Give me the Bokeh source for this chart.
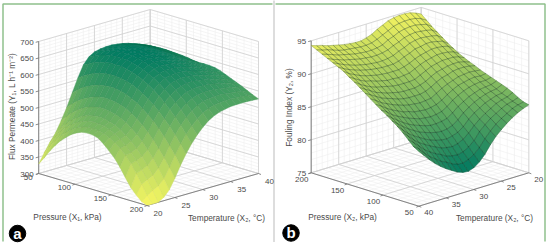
import numpy as np
from bokeh.plotting import figure
from bokeh.models import Range1d
from bokeh.embed import file_html
from bokeh.resources import INLINE

# ---------- chart a: flux permeate; rows T=20..40, columns P=50..200
A_PRESSURE = [50 + 7.5 * k for k in range(21)]
A_TEMP = list(range(20, 41))
A_FLUX = [
 [329,352,377,399,418,433,447,457,464,466,465,460,447,431,414,392,365,340,322,307,300],
 [358,383,404,423,439,452,462,470,474,475,474,470,462,452,439,423,402,378,350,320,300],
 [385,407,427,444,458,469,477,483,485,485,483,477,468,457,443,426,407,384,359,331,300],
 [408,428,446,461,473,483,490,494,496,495,491,485,476,464,450,434,414,392,367,340,310],
 [440,458,474,487,498,506,511,515,515,513,509,502,493,481,467,450,430,409,384,357,328],
 [475,491,505,516,525,532,537,539,539,536,532,525,515,504,490,474,455,434,411,386,358],
 [515,529,541,550,558,563,566,568,567,564,559,551,542,531,517,502,484,464,442,418,392],
 [555,566,576,584,589,593,595,595,593,589,584,576,566,555,542,527,509,491,470,447,422],
 [590,599,607,613,617,620,620,620,617,612,606,598,588,577,564,549,532,514,494,472,448],
 [610,618,625,630,633,635,635,634,631,626,620,612,603,592,579,565,549,532,513,492,470],
 [620,628,634,639,642,643,643,642,639,635,629,622,613,603,591,577,562,546,528,509,488],
 [624,631,636,641,643,645,645,644,641,637,632,625,617,607,596,584,571,556,540,522,503],
 [626,632,637,641,643,644,644,643,640,637,632,625,618,609,599,588,575,562,547,531,513],
 [626,631,636,639,641,642,641,640,637,634,629,623,616,608,599,589,577,565,551,536,520],
 [624,629,632,635,636,637,636,635,632,629,624,619,612,605,596,587,576,565,552,539,524],
 [621,625,628,630,631,631,631,629,627,623,619,614,608,601,593,584,575,564,553,540,527],
 [617,620,623,624,625,625,624,622,620,617,613,608,602,596,588,580,571,562,551,540,528],
 [611,614,616,617,617,617,616,615,612,609,606,601,596,590,583,576,568,559,549,539,528],
 [605,607,609,610,610,610,609,607,605,602,599,594,590,584,578,571,564,556,547,538,528],
 [598,600,601,602,602,601,600,599,597,594,591,587,582,577,572,566,559,552,544,536,527],
 [590,589,587,586,585,583,582,582,582,583,584,584,582,577,570,563,556,549,541,533,526],
]
A_Z_TICKS = [300, 350, 400, 450, 500, 550, 600, 650, 700]
A_P_TICKS = [50, 100, 150, 200]
A_T_TICKS = [20, 25, 30, 35, 40]

# ---------- chart b: fouling index; rows T=40..20, columns P=200..50
B_PRESSURE = [200 - 7.5 * k for k in range(21)]
B_TEMP = list(range(40, 19, -1))
B_FOULING = [
 [94.3,93.9,93.5,93.1,92.7,92.3,91.9,91.3,90.8,90.2,89.6,89.0,88.4,87.8,87.3,86.7,86.1,85.4,84.6,83.8,83.3],
 [94.0,93.6,93.2,92.7,92.3,91.8,91.3,90.8,90.2,89.7,89.1,88.5,87.9,87.3,86.6,86.0,85.3,84.6,83.9,83.2,82.4],
 [93.8,93.4,92.9,92.4,91.9,91.4,90.9,90.3,89.7,89.2,88.6,87.9,87.3,86.6,86.0,85.3,84.5,83.8,83.1,82.3,81.5],
 [93.5,93.1,92.6,92.1,91.6,91.1,90.5,89.9,89.3,88.7,88.1,87.5,86.8,86.1,85.4,84.7,83.9,83.1,82.3,81.5,80.7],
 [93.3,92.8,92.4,91.9,91.3,90.8,90.2,89.7,89.0,88.4,87.8,87.1,86.4,85.7,84.9,84.2,83.4,82.6,81.7,80.9,80.0],
 [93.1,92.6,92.2,91.7,91.1,90.6,90.0,89.4,88.8,88.1,87.5,86.8,86.0,85.3,84.5,83.7,82.9,82.1,81.2,80.3,79.4],
 [92.9,92.5,92.0,91.5,90.9,90.4,89.8,89.2,88.6,87.9,87.2,86.5,85.8,85.0,84.2,83.4,82.5,81.7,80.8,79.9,78.9],
 [92.8,92.4,91.9,91.4,90.8,90.3,89.7,89.0,88.4,87.7,87.0,86.3,85.5,84.7,83.9,83.1,82.2,81.3,80.3,79.4,78.4],
 [92.7,92.3,91.8,91.3,90.7,90.2,89.6,89.0,88.3,87.6,86.9,86.2,85.4,84.6,83.7,82.9,82.0,81.1,80.1,79.1,78.1],
 [92.7,92.3,91.8,91.3,90.7,90.2,89.6,88.9,88.3,87.6,86.9,86.1,85.3,84.5,83.7,82.8,81.9,81.0,80.0,79.0,78.0],
 [92.9,92.4,91.9,91.4,90.8,90.2,89.6,89.0,88.3,87.6,86.9,86.2,85.4,84.6,83.8,82.9,82.1,81.2,80.2,79.3,78.3],
 [93.2,92.7,92.1,91.6,91.0,90.4,89.8,89.1,88.4,87.8,87.1,86.3,85.6,84.8,84.0,83.2,82.4,81.6,80.7,79.8,78.9],
 [93.7,93.1,92.6,92.0,91.4,90.8,90.1,89.5,88.8,88.1,87.5,86.8,86.0,85.3,84.6,83.8,83.0,82.3,81.4,80.6,79.8],
 [94.1,93.5,92.9,92.3,91.7,91.1,90.5,89.9,89.2,88.6,88.0,87.3,86.6,86.0,85.3,84.6,83.9,83.2,82.5,81.7,81.0],
 [94.5,93.9,93.3,92.7,92.1,91.5,90.8,90.2,89.6,89.0,88.4,87.7,87.1,86.5,85.8,85.2,84.6,83.9,83.3,82.6,82.0],
 [94.7,94.1,93.5,92.9,92.3,91.6,91.0,90.4,89.8,89.2,88.6,88.0,87.5,86.9,86.3,85.7,85.1,84.5,84.0,83.4,82.8],
 [94.8,94.2,93.6,93.0,92.4,91.8,91.2,90.6,90.0,89.4,88.9,88.3,87.7,87.2,86.6,86.1,85.6,85.0,84.5,84.0,83.5],
 [94.8,94.2,93.6,92.9,92.3,91.8,91.2,90.6,90.0,89.5,89.0,88.4,87.9,87.4,86.9,86.4,85.9,85.5,85.0,84.5,84.1],
 [94.7,94.1,93.4,92.8,92.2,91.6,91.1,90.5,90.0,89.5,89.0,88.5,88.0,87.5,87.0,86.6,86.2,85.8,85.4,85.0,84.6],
 [94.4,93.8,93.2,92.6,92.0,91.4,90.9,90.3,89.8,89.3,88.9,88.4,87.9,87.5,87.1,86.7,86.3,86.0,85.6,85.3,85.0],
 [94.0,93.3,92.6,92.0,91.4,90.8,90.3,89.8,89.4,89.0,88.7,88.3,88.0,87.7,87.4,87.1,86.8,86.4,85.9,85.5,85.3],
]
B_Z_TICKS = [75, 80, 85, 90, 95]
B_P_TICKS = [200, 150, 100, 50]
B_T_TICKS = [40, 35, 30, 25, 20]

FONT = "Liberation Sans"
TXT = "#4a4a4a"

p = figure(width=550, height=249, output_backend="svg", toolbar_location=None,
           x_range=Range1d(0, 550), y_range=Range1d(249, 0), min_border=0,
           margin=(0, 0, 0, 0), outline_line_color=None, background_fill_color="white")
p.xaxis.visible = False
p.yaxis.visible = False
p.grid.visible = False


def summer(t, shade=1.0):
    t = min(max(t, 0.0), 1.0)
    return "#%02x%02x%02x" % (int(255 * t * shade), int(255 * (0.5 + 0.5 * t) * shade), int(102 * shade))


def panel(pressure, temp, zz, cfg):
    zz = np.array(zz, dtype=float)
    ox, oy = cfg["front"]
    (ux, uy), (vx, vy) = cfg["u"], cfg["v"]
    z0, z1 = cfg["zlim"]
    zh = cfg["zheight"]

    def proj(P, T, z):
        a = (P - cfg["p_front"]) / (cfg["p_far"] - cfg["p_front"])
        b = (T - cfg["t_front"]) / (cfg["t_far"] - cfg["t_front"])
        return (ox + a * ux + b * vx, oy + a * uy + b * vy - (z - z0) / (z1 - z0) * zh)

    pf, pb, tf, tb = cfg["p_front"], cfg["p_far"], cfg["t_front"], cfg["t_far"]

    # walls and floor grid
    def grid(lines, color, width):
        xs, ys = [], []
        for a, b in lines:
            x0, y0 = proj(*a)
            x1, y1 = proj(*b)
            xs.append([x0, x1])
            ys.append([y0, y1])
        p.multi_line(xs, ys, line_color=color, line_width=width)

    def lines(pv, tv, zv):
        out = []
        for P in pv:
            out.append(((P, tf, z0), (P, tb, z0)))          # floor, along T
            out.append(((P, tb, z0), (P, tb, z1)))          # far T wall vertical
        for T in tv:
            out.append(((pf, T, z0), (pb, T, z0)))          # floor, along P
            out.append(((pb, T, z0), (pb, T, z1)))          # far P wall vertical
        for Z in zv:
            out.append(((pb, tf, Z), (pb, tb, Z)))
            out.append(((pb, tb, Z), (pf, tb, Z)))
        return out

    grid(lines(cfg["p_minor"], cfg["t_minor"], cfg["z_minor"]), "#eeeeee", 0.6)
    grid(lines(cfg["p_ticks"], cfg["t_ticks"], cfg["z_ticks"]), "#d0d0d0", 0.8)

    # outer box axes
    grid([((pb, tf, z0), (pf, tf, z0)), ((pf, tf, z0), (pf, tb, z0)),
          ((pb, tf, z0), (pb, tf, z1))], "#6e6e6e", 0.8)

    # surface, back to front
    quads = []
    ni, nj = zz.shape
    for j in range(ni - 1):
        for i in range(nj - 1):
            corners = [(j, i), (j, i + 1), (j + 1, i + 1), (j + 1, i)]
            pts = [proj(pressure[c[1]], temp[c[0]], zz[c]) for c in corners]
            floor_y = np.mean([proj(pressure[c[1]], temp[c[0]], z0)[1] for c in corners])
            quads.append((floor_y, pts, np.mean([zz[c] for c in corners])))
    quads.sort(key=lambda q: q[0])
    lo, hi = cfg["clim"]
    cols = []
    for _, _, m in quads:
        t = (m - lo) / (hi - lo)
        cols.append(summer(1 - t if cfg["reverse"] else t, cfg["shade"]))
    xs = [[c[0] for c in q[1]] for q in quads]
    ys = [[c[1] for c in q[1]] for q in quads]
    p.patches(xs, ys, fill_color=cols, line_color=cols, line_width=0.4)
    p.patches(xs, ys, fill_alpha=0, line_color=cfg["mesh"], line_alpha=cfg["mesh_alpha"], line_width=0.5)

    # ticks + labels
    def label(x, y, s, align="center", angle=0.0, size="8px"):
        p.text([x], [y], text=[s], text_font={"value": FONT}, text_font_size={"value": size},
               text_color=TXT, text_align=align, text_baseline="middle", angle=angle)

    for Z in cfg["z_ticks"]:
        x, y = proj(pb, tf, Z)
        p.segment([x], [y], [x - 3], [y + 0.8], line_color="#6e6e6e", line_width=0.8)
        label(x - 5, y + 0.5, str(Z), "right")
    for P in cfg["p_ticks"]:
        x, y = proj(P, tf, z0)
        p.segment([x], [y], [x - 2.5], [y + 1], line_color="#6e6e6e", line_width=0.8)
        label(x + cfg["p_off"][0], y + cfg["p_off"][1], str(P))
    for T in cfg["t_ticks"]:
        x, y = proj(pf, T, z0)
        p.segment([x], [y], [x + 2.5], [y + 1], line_color="#6e6e6e", line_width=0.8)
        label(x + cfg["t_off"][0], y + cfg["t_off"][1], str(T))
    for s, x, y, ang in cfg["titles"]:
        label(x, y, s, "center", ang, "8.3px")
    x, y = cfg["badge"]
    p.scatter([x], [y], size=16.5, color="black")
    p.text([x], [y - 0.5], text=[cfg["name"]], text_font={"value": FONT}, text_font_style="bold",
           text_font_size={"value": "15px"}, text_color="white", text_align="center",
           text_baseline="middle")


panel(A_PRESSURE, A_TEMP, A_FLUX, dict(
    front=(146.5, 205.0), u=(-108.3, -32.0), v=(111.5, -32.0), p_front=200, p_far=50,
    t_front=20, t_far=40, zlim=(300, 700), zheight=132.0, clim=(300, 645), reverse=True,
    mesh="#000000", mesh_alpha=0.04, shade=0.97,
    p_ticks=A_P_TICKS, t_ticks=A_T_TICKS, z_ticks=A_Z_TICKS,
    p_minor=list(range(50, 201, 10)), t_minor=list(range(20, 41)), z_minor=list(range(300, 701, 10)),
    p_off=(-10.5, 3.5), t_off=(11, 7.5), badge=(17, 233), name="a",
    titles=[("Pressure (X\u2081, kPa)", 67, 216, 0.0),
            ("Temperature (X\u2082, \u00b0C)", 226, 217, 0.0),
            ("Flux Permeate (Y\u2081, L h\u207b\u00b9 m\u207b\u00b2)", 11, 106, np.pi / 2)],
))

panel(B_PRESSURE, B_TEMP, B_FOULING, dict(
    front=(418.3, 205.7), u=(-107.6, -33.4), v=(110.0, -33.4), p_front=50, p_far=200,
    t_front=40, t_far=20, zlim=(75, 95), zheight=132.0, clim=(78, 94.8), reverse=False,
    mesh="#12301c", mesh_alpha=0.42, shade=0.95,
    p_ticks=B_P_TICKS, t_ticks=B_T_TICKS, z_ticks=B_Z_TICKS,
    p_minor=list(range(50, 201, 10)), t_minor=list(range(20, 41)), z_minor=list(range(75, 96)),
    p_off=(-9.5, 6.5), t_off=(10, 6.5), badge=(290.5, 232.5), name="b",
    titles=[("Pressure (X\u2082, kPa)", 342, 216, 0.0),
            ("Temperature (X\u2082, \u00b0C)", 494, 217, 0.0),
            ("Fouling Index (Y\u2082, %)", 288, 107, np.pi / 2)],
))

# panel frames and divider
FRAME = "#8fc08c"
p.multi_line([[2.5, 2.5, 272], [275, 544.5, 544.5]], [[241, 3.5, 3.5], [3.5, 3.5, 241]],
             line_color=FRAME, line_width=1.5)
p.segment([273.5], [0], [273.5], [241], line_color="#777777", line_width=1, line_dash="1 1")

open("out.html", "w").write(file_html(p, INLINE))
